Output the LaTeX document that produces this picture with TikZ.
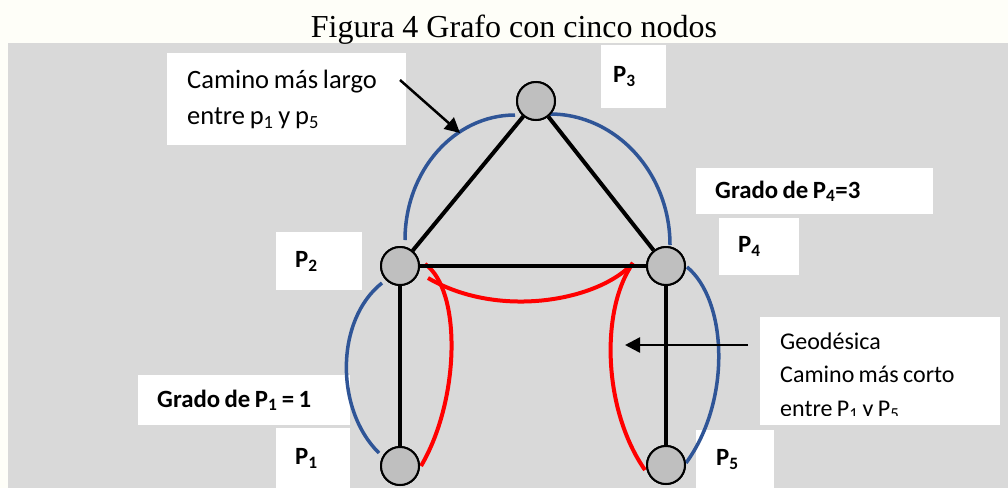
\documentclass[tikz,border=0pt]{standalone}
\usepackage{fontspec}
\setmainfont{Carlito}[WordSpace=0.8]
\newfontfamily\titlefont{Liberation Serif}
\usetikzlibrary{arrows.meta}
\definecolor{pagebg}{HTML}{FEFEF8}
\definecolor{panelbg}{HTML}{D9D9D9}
\definecolor{nodefill}{HTML}{BFBFBF}
\definecolor{arcblue}{HTML}{2F5597}
\definecolor{arcred}{HTML}{FF0000}
\newcommand{\lft}[2]{\makebox[#1][l]{#2}}
\begin{document}
\begin{tikzpicture}[x=1pt,y=-1pt,
  vert/.style={circle, draw=black, line width=2pt, fill=nodefill, minimum size=38pt, inner sep=0pt},
  graphedge/.style={line width=4pt, draw=black},
  bluearc/.style={line width=3.5pt, draw=arcblue},
  redarc/.style={line width=4pt, draw=arcred},
  callout/.style={line width=2.5pt, draw=black, -{Triangle[length=15pt,width=15pt]}},
  tbox/.style={fill=white, anchor=north west, align=left, inner ysep=0pt, font=\fontsize{26.5}{36}\selectfont},
  bbox/.style={fill=white, anchor=north west, inner ysep=0pt, font=\fontsize{24.8}{30}\selectfont\bfseries},
]
\useasboundingbox (0,0) rectangle (1008,488);
\fill[pagebg] (0,0) rectangle (1008,488);
\fill[panelbg] (8,43) rectangle (1008,488);

\node[font=\titlefont\fontsize{32}{38}\selectfont, anchor=base, inner sep=0pt] (title) at (514,37) {Figura 4 Grafo con cinco nodos};

% text boxes
\node[tbox, minimum width=239pt, minimum height=92pt, inner xsep=20pt] (camino) at (167,53)
  {\lft{199pt}{Camino más largo}\\\lft{199pt}{entre p\textsubscript{1} y p\textsubscript{5}}};
\node[bbox, minimum width=65pt, minimum height=63pt, inner xsep=12pt] (l3) at (601,45) {\lft{41pt}{P\textsubscript{3}}};
\node[bbox, minimum width=237pt, minimum height=46pt, inner xsep=19pt] (g4) at (696,168) {\lft{199pt}{Grado de P\textsubscript{4}=3}};
\node[bbox, minimum width=80pt, minimum height=57pt, inner xsep=19pt] (l4) at (719,218) {\lft{42pt}{P\textsubscript{4}}};
\node[bbox, minimum width=86pt, minimum height=58pt, inner xsep=19pt] (l2) at (276,232) {\lft{48pt}{P\textsubscript{2}}};
\node[bbox, minimum width=78pt, minimum height=58pt, inner xsep=20pt] (l5) at (696,430) {\lft{38pt}{P\textsubscript{5}}};
\node[bbox, minimum width=212pt, minimum height=50pt, inner xsep=19pt] (g1) at (138,375) {\lft{174pt}{Grado de P\textsubscript{1} = 1}};
\node[bbox, minimum width=74pt, minimum height=60pt, inner xsep=19pt] (l1) at (276,428) {\lft{36pt}{P\textsubscript{1}}};
\node[fill=white, anchor=north west, minimum width=240pt, minimum height=108pt, inner sep=0pt] (geo) at (760,317) {};
\begin{scope}
  \clip (760,317) rectangle (1000,415);
  \node[anchor=base west, inner sep=0pt, font=\fontsize{24}{33.5}\selectfont] (geotext) at (780,349)
    {\vtop{\hbox{Geodésica}\hbox{Camino más corto}\hbox{entre P\textsubscript{1} y P\textsubscript{5}}}};
\end{scope}

% vertices
\node[vert] (P1) at (400,466) {};
\node[vert] (P2) at (400,266) {};
\node[vert] (P3) at (536,101) {};
\node[vert] (P4) at (666,266) {};
\node[vert] (P5) at (666,465) {};

% blue arcs (longest path)
\draw[bluearc] ([shift={(5,-26)}]P2.center) .. controls (405,171) and (454,115) .. ([shift={(-21,14)}]P3.center);
\draw[bluearc] ([shift={(14,13)}]P3.center) .. controls (616,114) and (670,173) .. ([shift={(4,-21)}]P4.center);
\draw[bluearc] ([shift={(-18,17)}]P2.center) .. controls (335,320) and (335,410) .. ([shift={(-21,-13)}]P1.center);
\draw[bluearc] ([shift={(21,1)}]P4.center) .. controls (727,300) and (732,400) .. ([shift={(20,-2)}]P5.center);

% red arcs (geodesic)
\draw[redarc] ([shift={(25,-2)}]P2.center) .. controls (462,290) and (460,400) .. ([shift={(21,0)}]P1.center);
\draw[redarc] ([shift={(28,12)}]P2.center) .. controls (500,320) and (600,300) .. ([shift={(-33,-3)}]P4.center);
\draw[redarc] ([shift={(-33,-3)}]P4.center) .. controls (600,310) and (603,410) .. ([shift={(-21,5)}]P5.center);

% graph edges
\draw[graphedge] (P3) -- (P2);
\draw[graphedge] (P3) -- (P4);
\draw[graphedge] (P2) -- (P4);
\draw[graphedge] (P2) -- (P1);
\draw[graphedge] (P4) -- (P5);

% redraw vertices on top
\node[vert] at (P1) {};
\node[vert] at (P2) {};
\node[vert] at (P3) {};
\node[vert] at (P4) {};
\node[vert] at (P5) {};

% callout arrows
\coordinate (a1s) at (400,80);
\coordinate (a1e) at (460,133);
\coordinate (a2s) at (748,345);
\coordinate (a2e) at (625,345);
\draw[callout] (a1s) -- (a1e);
\draw[callout] (a2s) -- (a2e);
\end{tikzpicture}
\end{document}
